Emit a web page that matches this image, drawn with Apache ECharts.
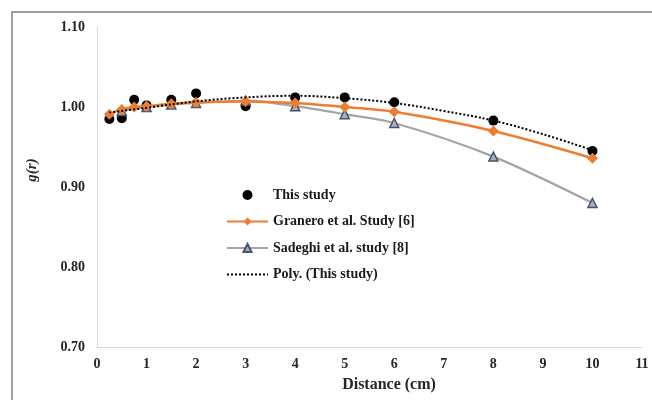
<!DOCTYPE html>
<html>
<head>
<meta charset="utf-8">
<script src="https://cdn.jsdelivr.net/npm/echarts@6/dist/echarts.min.js"></script>
<style>html,body{margin:0;padding:0;background:#fff}#c{width:652px;height:400px}</style>
</head>
<body>
<div id="c"></div>
<script>
const thisStudyX = [0.25, 0.5, 0.75, 1, 1.5, 2, 3, 4, 5, 6, 8, 10];
const thisStudyY = [0.985, 0.986, 1.009, 1.002, 1.009, 1.017, 1.001, 1.012, 1.012, 1.006, 0.983, 0.945];
const graneroX = [0.25, 0.5, 0.75, 1, 1.5, 2, 3, 4, 5, 6, 8, 10];
const graneroY = [0.991, 0.997, 1.000, 1.001, 1.004, 1.006, 1.007, 1.005, 1.000, 0.994, 0.970, 0.936];
const sadeghiX = [0.5, 1, 1.5, 2, 3, 4, 5, 6, 8, 10];
const sadeghiY = [0.995, 1.000, 1.003, 1.005, 1.008, 1.001, 0.991, 0.980, 0.938, 0.880];
const polyX = [0.25, 1, 2, 3, 4, 5, 6, 7, 8, 9, 10];
const polyY = [0.993, 0.999, 1.007, 1.012, 1.014, 1.011, 1.005, 0.995, 0.983, 0.966, 0.946];
const seriesNames = ['This study', 'Granero et al. Study [6]', 'Sadeghi et al. study [8]', 'Poly. (This study)'];
const xTitle = 'Distance (cm)';
const yTitle = 'g(r)';

const zip = (xs, ys) => xs.map((x, i) => [x, ys[i]]);
const FONT = '"Liberation Serif", "Times New Roman", serif';

const chart = echarts.init(document.getElementById('c'));
chart.setOption({
  animation: false,
  backgroundColor: '#fff',
  grid: { left: 97, right: 10, top: 27, bottom: 53 },
  xAxis: {
    type: 'value', min: 0, max: 11, interval: 1,
    axisLine: { show: true, lineStyle: { color: '#d9d9d9', width: 1 } },
    axisTick: { show: false },
    splitLine: { show: false },
    axisLabel: { fontFamily: FONT, fontWeight: 'bold', fontSize: 14, color: '#262626', margin: 10 }
  },
  yAxis: {
    type: 'value', min: 0.7, max: 1.1, interval: 0.1,
    axisLine: { show: true, lineStyle: { color: '#d9d9d9', width: 1 } },
    axisTick: { show: false },
    splitLine: { show: false },
    axisLabel: { fontFamily: FONT, fontWeight: 'bold', fontSize: 14, color: '#262626', margin: 12,
      formatter: v => v.toFixed(2) }
  },
  legend: {
    orient: 'vertical', left: 221, top: 183, itemWidth: 41, itemHeight: 10, itemGap: 12.5,
    textStyle: { fontFamily: FONT, fontWeight: 'bold', fontSize: 14, color: '#1a1a1a' },
    data: [
      seriesNames[0],
      seriesNames[1],
      seriesNames[2],
      { name: seriesNames[3], itemStyle: { opacity: 0 } }
    ]
  },
  graphic: [
    { type: 'rect', shape: { x: 12, y: 12, width: 660, height: 420 }, style: { fill: null, stroke: '#7f7f7f', lineWidth: 1.5 }, silent: true },
    { type: 'text', x: 32, y: 170, rotation: Math.PI / 2, style: { text: yTitle, fontFamily: FONT, fontWeight: 'bold', fontStyle: 'italic', fontSize: 15, fill: '#262626', align: 'center', verticalAlign: 'middle' } },
    { type: 'text', x: 389, y: 385, style: { text: xTitle, fontFamily: FONT, fontWeight: 'bold', fontSize: 16, fill: '#262626', align: 'center', verticalAlign: 'middle' } }
  ],
  series: [
    { name: seriesNames[0], type: 'scatter', data: zip(thisStudyX, thisStudyY), symbol: 'circle', symbolSize: 10,
      itemStyle: { color: '#000', opacity: 1 }, z: 2 },
    { name: seriesNames[1], type: 'line', data: zip(graneroX, graneroY), smooth: 0.3, symbol: 'diamond', symbolSize: 11,
      lineStyle: { color: '#ed7d31', width: 2.5 }, itemStyle: { color: '#ed7d31', borderWidth: 0 }, z: 4 },
    { name: seriesNames[2], type: 'line', data: zip(sadeghiX, sadeghiY), smooth: 0.3, symbol: 'triangle', symbolSize: 9,
      lineStyle: { color: '#a5a5a5', width: 2.25 }, itemStyle: { color: '#a9b0bb', borderColor: '#44546a', borderWidth: 1.5 }, z: 3 },
    { name: seriesNames[3], type: 'line', data: zip(polyX, polyY), smooth: 0.4, showSymbol: false, symbol: 'none',
      lineStyle: { color: '#000', width: 2, type: [2, 2] }, itemStyle: { color: '#000' }, z: 5 }
  ]
});
</script>
</body>
</html>
